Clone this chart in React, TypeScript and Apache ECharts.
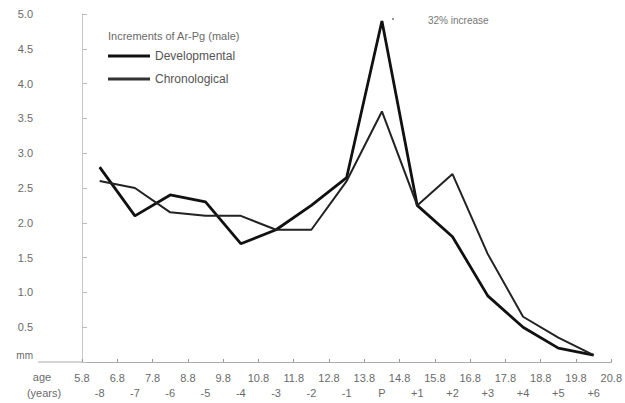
import React, { useEffect, useRef } from "react";
import * as echarts from "echarts";

const intervalLabels = ["-8", "-7", "-6", "-5", "-4", "-3", "-2", "-1", "P", "+1", "+2", "+3", "+4", "+5", "+6"];
const ageTicks = ["5.8", "6.8", "7.8", "8.8", "9.8", "10.8", "11.8", "12.8", "13.8", "14.8", "15.8", "16.8", "17.8", "18.8", "19.8", "20.8"];
const developmental = [2.8, 2.1, 2.4, 2.3, 1.7, 1.9, 2.25, 2.65, 4.9, 2.25, 1.8, 0.95, 0.5, 0.2, 0.1];
const chronological = [2.6, 2.5, 2.15, 2.1, 2.1, 1.9, 1.9, 2.6, 3.6, 2.25, 2.7, 1.55, 0.65, 0.35, 0.1];

const FONT = "Liberation Sans";
const GRAY = "#6a6a6a";

export default function App() {
  const ref = useRef<HTMLDivElement>(null);
  useEffect(() => {
    if (!ref.current) return;
    const chart = echarts.init(ref.current, undefined, { renderer: "svg" });
    chart.setOption({
      animation: false,
      backgroundColor: "#fff",
      textStyle: { fontFamily: FONT },
      title: {
        text: "Increments of Ar-Pg (male)",
        left: 103,
        top: 25,
        textStyle: { fontSize: 11, fontWeight: "normal", color: GRAY, fontFamily: FONT },
      },
      legend: {
        orient: "vertical",
        left: 103,
        top: 44,
        icon: "rect",
        itemWidth: 42,
        itemHeight: 3,
        itemGap: 9,
        textStyle: { fontSize: 12, color: "#555", fontFamily: FONT, lineHeight: 14 },
        data: [
          { name: "Developmental", itemStyle: { color: "#111" } },
          { name: "Chronological", itemStyle: { color: "#333" } },
        ],
      },
      grid: { left: 82, right: 7, top: 14, bottom: 41 },
      xAxis: [
        {
          type: "category",
          data: intervalLabels,
          boundaryGap: true,
          position: "bottom",
          axisLine: { show: true, lineStyle: { color: "#aaa", width: 1 } },
          axisTick: { show: false },
          axisLabel: { margin: 25, fontSize: 11, color: GRAY, fontFamily: FONT },
        },
        {
          type: "value",
          min: 0,
          max: 15,
          interval: 1,
          position: "bottom",
          axisLine: { show: false },
          axisTick: { show: true, inside: true, length: 3, lineStyle: { color: "#999" } },
          splitLine: { show: false },
          axisLabel: {
            margin: 10,
            fontSize: 11,
            color: GRAY,
            fontFamily: FONT,
            showMaxLabel: true,
            formatter: (v: number) => ageTicks[Math.round(v)] ?? "",
          },
        },
      ],
      yAxis: {
        type: "value",
        min: 0,
        max: 5,
        interval: 0.5,
        offset: 44,
        axisLine: { show: true, lineStyle: { color: "#c8c8c8" } },
        axisTick: { show: true, inside: true, length: 5, lineStyle: { color: "#bbb" } },
        splitLine: { show: false },
        axisLabel: {
          margin: 5,
          fontSize: 11,
          color: GRAY,
          fontFamily: FONT,
          formatter: (v: number) => (v === 0 ? "{mm|mm}" : v.toFixed(1)),
          rich: { mm: { fontSize: 10, color: GRAY, padding: [0, 0, 14, 0] } },
        },
      },
      graphic: [
        { type: "line", shape: { x1: 38, y1: 362, x2: 82, y2: 362 }, style: { stroke: "#aaa", lineWidth: 1 } },
        { type: "text", x: 42, y: 377, style: { text: "age", fontSize: 11, fill: GRAY, fontFamily: FONT, align: "center", verticalAlign: "middle" } },
        { type: "text", x: 44, y: 393, style: { text: "(years)", fontSize: 11, fill: GRAY, fontFamily: FONT, align: "center", verticalAlign: "middle" } },
        { type: "text", x: 428, y: 20, style: { text: "32% increase", fontSize: 10, fill: "#777", fontFamily: FONT, verticalAlign: "middle" } },
        { type: "circle", shape: { cx: 393, cy: 19, r: 0.8 }, style: { fill: "#555" } },
      ],
      series: [
        {
          name: "Developmental",
          type: "line",
          xAxisIndex: 0,
          data: developmental,
          symbol: "none",
          lineStyle: { color: "#111", width: 2.8 },
          itemStyle: { color: "#111" },
        },
        {
          name: "Chronological",
          type: "line",
          xAxisIndex: 0,
          data: chronological,
          symbol: "none",
          lineStyle: { color: "#222", width: 2 },
          itemStyle: { color: "#222" },
        },
      ],
    });
    return () => chart.dispose();
  }, []);
  return <div ref={ref} style={{ width: 625, height: 403, position: "fixed", left: 0, top: 0 }} />;
}
